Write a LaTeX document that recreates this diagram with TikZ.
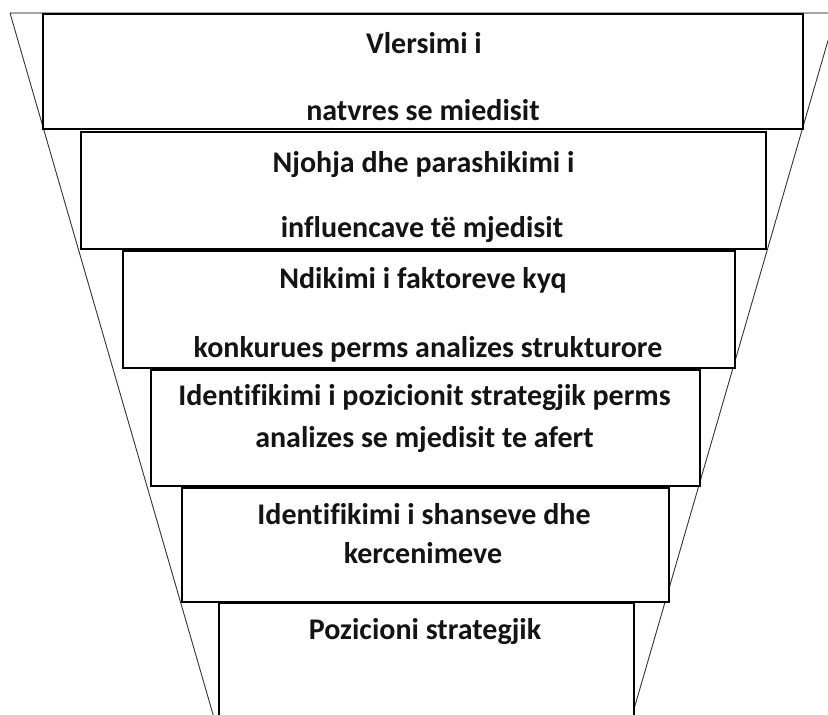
\documentclass[tikz,border=0pt]{standalone}
\usepackage{fontspec}
\setmainfont[Ligatures=NoCommon]{Carlito}
\begin{document}
\begin{tikzpicture}[x=1pt,y=-1pt,
  box/.style={draw=black, line width=1.5pt, fill=white, rectangle, inner sep=0pt, anchor=north west},
  lbl/.style={font=\bfseries\fontsize{30}{30}\selectfont, text=black!92, anchor=base, inner sep=0pt},
  funnel/.style={draw=black!80, line width=0.9pt},
  rim/.style={draw=black!35, line width=1.6pt}]
\useasboundingbox (0,0) rectangle (828,715);
\begin{scope}
\clip (0,0) rectangle (828,715);
\coordinate (tl) at (10,13);
\coordinate (tr) at (836,13);
\coordinate (bl) at (213.5,716);
\coordinate (br) at (632,716);
\draw[rim] (tl) -- (tr);
\draw[funnel] (tl) -- (bl);
\draw[funnel] (tr) -- (br);
\node[box, minimum width=760pt, minimum height=115pt] (b1) at (42,13) {};
\node[box, minimum width=685pt, minimum height=117pt] (b2) at (80,131) {};
\node[box, minimum width=612pt, minimum height=117pt] (b3) at (122,250) {};
\node[box, minimum width=549pt, minimum height=116pt] (b4) at (150,369) {};
\node[box, minimum width=487pt, minimum height=114pt] (b5) at (181,487) {};
\node[box, minimum width=415pt, minimum height=130pt] (b6) at (218,602) {};
\node[lbl] (t1a) at (424,53) {Vlersimi i};
\node[lbl] (t1b) at (423,120) {natvres se miedisit};
\node[lbl] (t2a) at (423.5,172) {Njohja dhe parashikimi i};
\node[lbl] (t2b) at (422,237) {influencave të mjedisit};
\node[lbl] (t3a) at (423,288) {Ndikimi i faktoreve kyq};
\node[lbl] (t3b) at (428,357) {konkurues perms analizes strukturore};
\node[lbl] (t4a) at (424.5,405) {Identifikimi i pozicionit strategjik perms};
\node[lbl] (t4b) at (424.5,447) {analizes se mjedisit te afert};
\node[lbl] (t5a) at (424,524) {Identifikimi i shanseve dhe};
\node[lbl] (t5b) at (423,563) {kercenimeve};
\node[lbl] (t6) at (425,639) {Pozicioni strategjik};
\end{scope}
\end{tikzpicture}
\end{document}
